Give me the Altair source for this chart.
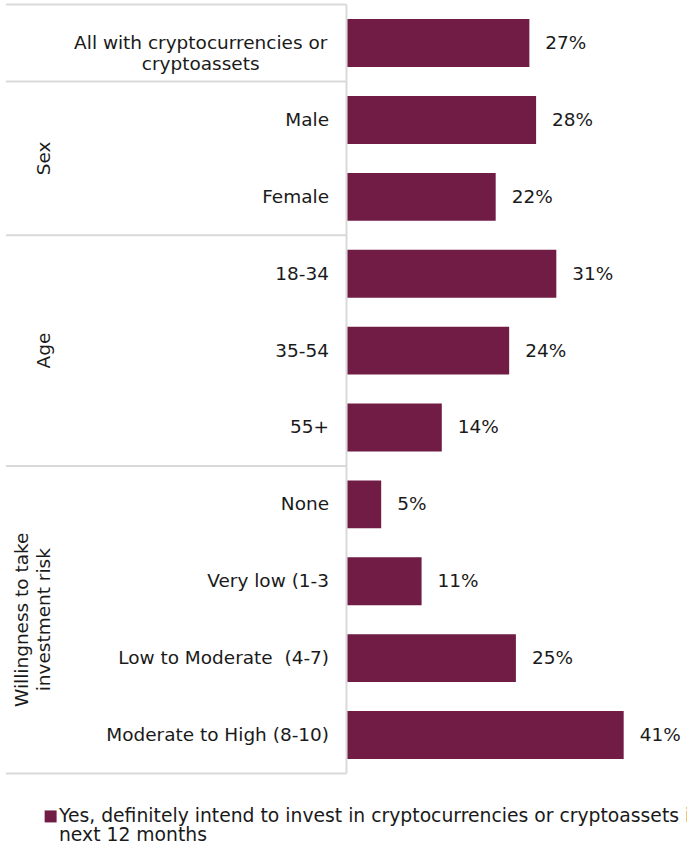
import altair as alt
import pandas as pd

# Survey rows (top to bottom) and share answering "Yes, definitely"
categories = [
    "All with cryptocurrencies or\ncryptoassets",
    "Male",
    "Female",
    "18-34",
    "35-54",
    "55+",
    "None",
    "Very low (1-3",
    "Low to Moderate \u00a0(4-7)",
    "Moderate to High (8-10)",
]
values = [27, 28, 22, 31, 24, 14, 5, 11, 25, 41]

# Row groups: label, first row, last row
groups = ["Sex", "Age", "Willingness to take\ninvestment risk"]
group_first_row = [1, 3, 6]
group_last_row = [2, 5, 9]

legend_label = (
    "Yes, definitely intend to invest in cryptocurrencies or cryptoassets in the\n"
    "next 12 months"
)

BAR = "#701c45"
GRID = "#d9d9d9"
INK = "#1a1a1a"
FONT = "DejaVu Sans"
FS = 18.5

n = len(categories)
rows = pd.DataFrame({"label": categories, "value": values, "row": list(range(n))})
group_df = pd.DataFrame({"group": groups, "first": group_first_row, "last": group_last_row})
sep_df = pd.DataFrame({"pos": [0] + group_first_row + [n]})
legend_df = pd.DataFrame({"label": [legend_label]})

HAS_BREAK = "indexof(datum.{f}, '\\n') >= 0"
NO_BREAK = "indexof(datum.{f}, '\\n') < 0"

# ---- left panel: row labels, group labels and frame lines ----
yq = alt.Scale(domain=[0, n], reverse=True, nice=False, zero=False)

hlines = alt.Chart(sep_df).mark_rule(color=GRID, strokeWidth=2).encode(
    y=alt.Y("pos:Q", scale=yq, axis=None),
    x=alt.value(0),
    x2=alt.value(341),
)
vline = alt.Chart(sep_df).mark_rule(color=GRID, strokeWidth=2).encode(
    x=alt.value(341),
    y=alt.Y("min(pos):Q", scale=yq, axis=None),
    y2="max(pos):Q",
)

row_base = alt.Chart(rows).transform_calculate(mid="datum.row + 0.5")

row_labels = row_base.transform_filter(NO_BREAK.format(f="label")).mark_text(
    align="right", baseline="middle", font=FONT, fontSize=FS, color=INK
).encode(
    y=alt.Y("mid:Q", scale=yq, axis=None),
    x=alt.value(323.5),
    text="label:N",
)

wrapped_labels = row_base.transform_filter(HAS_BREAK.format(f="label")).mark_text(
    align="center", baseline="middle", font=FONT, fontSize=FS, color=INK,
    lineBreak="\n", lineHeight=21,
).encode(
    y=alt.Y("mid:Q", scale=yq, axis=None),
    x=alt.value(195),
    text="label:N",
)

group_base = alt.Chart(group_df).transform_calculate(
    mid="(datum.first + datum.last + 1) / 2"
)
group_style = dict(
    angle=270, align="center", baseline="bottom", font=FONT, fontSize=FS,
    color=INK, lineBreak="\n", lineHeight=22,
)
group_single = group_base.transform_filter(NO_BREAK.format(f="group")).mark_text(
    **group_style
).encode(
    y=alt.Y("mid:Q", scale=yq, axis=None),
    x=alt.value(48),
    text="group:N",
)
group_wrapped = group_base.transform_filter(HAS_BREAK.format(f="group")).mark_text(
    **group_style
).encode(
    y=alt.Y("mid:Q", scale=yq, axis=None),
    x=alt.value(26),
    text="group:N",
)

left = alt.layer(
    hlines, vline, row_labels, wrapped_labels, group_single, group_wrapped
).properties(width=342, height=770)

# ---- right panel: bars with value labels ----
bars = alt.Chart(rows).transform_calculate(
    pct="datum.value + '%'"
).mark_bar(color=BAR).encode(
    y=alt.Y(
        "label:N",
        sort=categories,
        axis=None,
        scale=alt.Scale(paddingInner=0.377, paddingOuter=0.1885),
    ),
    x=alt.X("value:Q", axis=None, scale=alt.Scale(domain=[0, 50.4], nice=False)),
)
bar_text = bars.mark_text(
    align="left", baseline="middle", dx=16, font=FONT, fontSize=FS, color=INK
).encode(text="pct:N")

right = alt.layer(bars, bar_text).properties(width=340, height=770)

# ---- legend ----
legend_swatch = alt.Chart(legend_df).mark_square(color=BAR, size=144, opacity=1).encode(
    x=alt.value(44.7), y=alt.value(22)
)
legend_text = alt.Chart(legend_df).mark_text(
    align="left", baseline="alphabetic", font=FONT, fontSize=18.8, color=INK,
    lineBreak="\n", lineHeight=19, clip=True,
).encode(x=alt.value(53), y=alt.value(28), text="label:N")

legend = alt.layer(legend_swatch, legend_text).properties(width=682, height=50)

chart = (
    alt.vconcat(alt.hconcat(left, right, spacing=0), legend, spacing=20)
    .properties(padding={"left": 5, "top": 3, "right": 0, "bottom": 0})
    .configure_view(stroke=None)
)

chart.save("out.html", embed_options={"renderer": "svg", "actions": False})
